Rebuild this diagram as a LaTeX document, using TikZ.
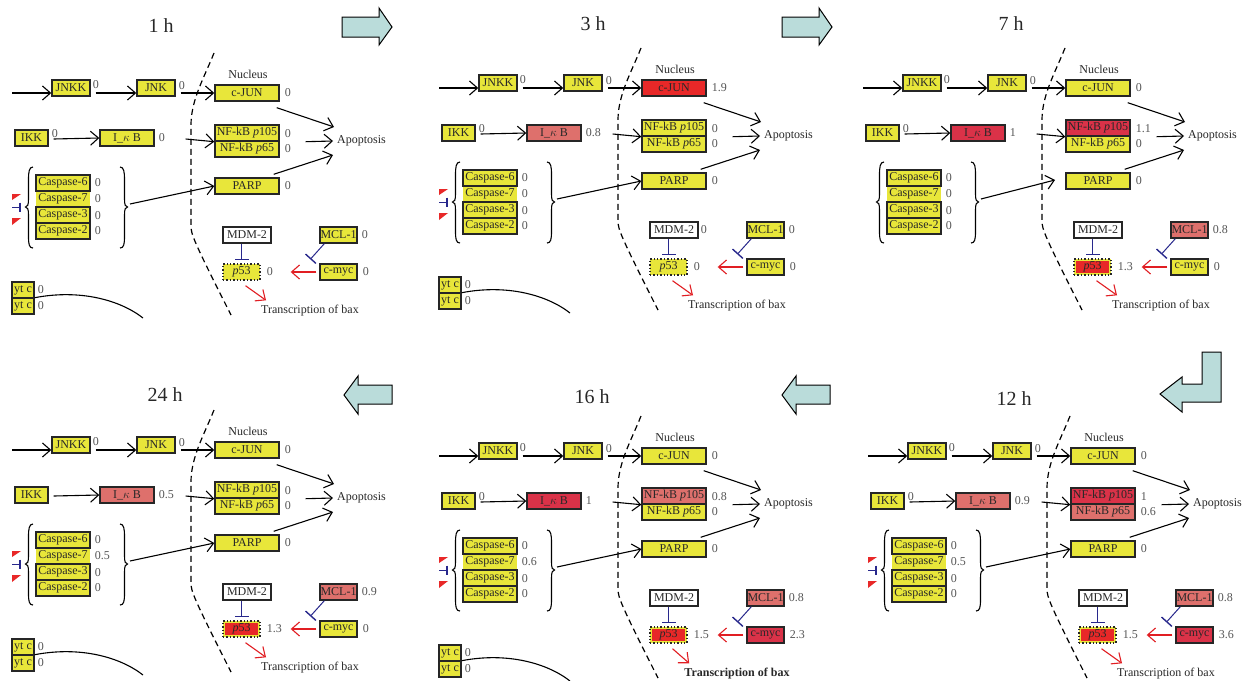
\documentclass[tikz,border=0pt]{standalone}
\usepackage{fontspec}
\setmainfont{Liberation Serif}
\usetikzlibrary{arrows.meta,calc}
\definecolor{yel}{RGB}{232,230,58}
\definecolor{pnk}{RGB}{222,112,108}
\definecolor{crm}{RGB}{218,50,72}
\definecolor{rdb}{RGB}{232,40,40}
\definecolor{tealbx}{RGB}{186,220,218}
\definecolor{inhb}{RGB}{40,40,140}
\definecolor{actr}{RGB}{225,30,35}
\definecolor{valc}{RGB}{85,85,85}
\definecolor{txtc}{RGB}{40,40,40}
\tikzset{
 box/.style={draw=black!85, line width=1.4pt, fill=yel, minimum height=16pt, inner sep=0pt, text=txtc, font=\fontsize{12}{13}\selectfont},
 val/.style={anchor=west, inner sep=0pt, text=valc, font=\fontsize{12}{13}\selectfont},
 lbl/.style={inner sep=0pt, text=txtc, font=\fontsize{12}{13}\selectfont},
 act/.style={line width=1.1pt, -{Straight Barb[length=8pt,width=14pt,line width=1.1pt]}},
 ract/.style={act, draw=actr},
 inh/.style={draw=inhb, line width=1pt, -{Bar[width=14pt,line width=1.4pt]}},
 memb/.style={line width=1.2pt, dash pattern=on 6pt off 4pt},
 bigarrow/.style={draw=black, line width=1pt, fill=tealbx, line join=miter},
 ttl/.style={font=\fontsize{20}{22}\selectfont, text=txtc},
 crv/.style={line width=1.1pt},
}
\newif\ifQtri
\newif\ifQytc
\newif\ifQshort
\newcommand\Qdefaults{%
 \def\QcjunC{yel}\def\QcjunV{0}\def\QikkV{0}\def\QikbC{yel}\def\QikbV{0}%
 \def\QpaC{yel}\def\QpaV{0}\def\QpbC{yel}\def\QpbV{0}\def\QcsV{0}%
 \def\QmdmV{}\def\QmclC{yel}\def\QmclV{0}\def\QmycC{yel}\def\QmycV{0}%
 \def\QpfC{yel}\def\QpfV{0}\def\QtobF{}\Qtritrue\Qytctrue\Qshortfalse}
\newcommand\drawpanel[3]{%
\begin{scope}[shift={(#2,#3)}]
\draw[memb] (214,53) .. controls (204,78) and (191,100) .. (191,125) -- (191,226) .. controls (191,234) and (193,240) .. (231,315);
% JNK row
\node[box,minimum width=38pt] (#1jnkk) at (71,88) {JNKK};
\node[val] at ($(#1jnkk.east)+(2,-3)$) {0};
\node[box,minimum width=38pt] (#1jnk) at (156,88) {JNK};
\node[val] at ($(#1jnk.east)+(3,-2)$) {0};
\node[box,fill=\QcjunC,minimum width=64pt] (#1cjun) at (247,93) {c-JUN};
\node[val] at ($(#1cjun.east)+(5,0)$) {\QcjunV};
\node[lbl] (#1nuc) at (248,74) {Nucleus};
\coordinate (#1st) at (12,93);
\draw[act] (#1st) -- ($(#1jnkk.west)+(0,5)$);
\draw[act] ($(#1jnkk.east)+(5,5)$) -- ($(#1jnk.west)+(0,5)$);
\draw[act] ($(#1jnk.east)+(5,5)$) -- (#1cjun.west);
% IKK row
\node[box,minimum width=33pt] (#1ikk) at (31.5,138) {IKK};
\node[val] at ($(#1ikk.east)+(3,-4)$) {\QikkV};
\node[box,fill=\QikbC,minimum width=54pt] (#1ikb) at (127,138) {I\_$\kappa$ B};
\node[val] at ($(#1ikb.east)+(4,0)$) {\QikbV};
\draw[act] ($(#1ikk.east)+(5,1)$) -- (#1ikb.west);
\node[box,fill=\QpaC,minimum width=64pt] (#1pa) at (247,133) {NF-kB \textit{p}105};
\node[box,fill=\QpbC,minimum width=64pt] (#1pb) at (247,149) {NF-kB \textit{p}65};
\node[val] at ($(#1pa.east)+(5,1)$) {\QpaV};
\node[val] at ($(#1pb.east)+(5,0)$) {\QpbV};
\coordinate (#1ia) at ($(#1ikb.east)+(31,1)$);
\draw[act] (#1ia) -- (#1pa.south west);
\node[box,minimum width=64pt] (#1parp) at (247,186) {PARP};
\node[val] at ($(#1parp.east)+(5,0)$) {0};
\node[lbl,anchor=west] (#1apo) at (337,141) {Apoptosis};
\draw[act] ($(#1cjun.south east)+(-3,6)$) -- ($(#1apo.west)+(-3,-14)$);
\draw[act] ($(#1pa.south east)+(26,0)$) -- ($(#1apo.west)+(-4,0)$);
\draw[act] ($(#1parp.north east)+(-6,-3)$) -- ($(#1apo.west)+(-4,14)$);
% caspases
\node[box,draw=none,minimum width=54pt] (#1c7) at (63,199) {Caspase-7};
\node[box,minimum width=54pt] (#1c6) at (63,183) {Caspase-6};
\node[box,minimum width=54pt] (#1c3) at (63,215) {Caspase-3};
\node[box,minimum width=54pt] (#1c2) at (63,231) {Caspase-2};
\node[val] at ($(#1c6.east)+(4,0)$) {0};
\node[val] at ($(#1c7.east)+(4,0)$) {\QcsV};
\node[val] at ($(#1c3.east)+(4,1)$) {0};
\node[val] at ($(#1c2.east)+(4,0)$) {0};
\draw[crv] (33,167) .. controls (29,167) and (28.5,172) .. (28.5,180) -- (28.5,199) .. controls (28.5,205) and (27.5,207) .. (25.5,207) .. controls (27.5,207) and (28.5,209) .. (28.5,215) -- (28.5,236) .. controls (28.5,244) and (29,248) .. (33,248);
\draw[crv] (120,167) .. controls (124,167) and (124.5,172) .. (124.5,180) -- (124.5,199) .. controls (124.5,205) and (125.5,207) .. (127.5,207) .. controls (125.5,207) and (124.5,209) .. (124.5,215) -- (124.5,236) .. controls (124.5,244) and (124,248) .. (120,248);
\coordinate (#1rb) at (130,204);
\ifQshort
 \coordinate (#1pe) at (204,185);
 \draw[act] (#1rb) -- (#1pe);
\else
 \draw[act] (#1rb) -- (#1parp.west);
\fi
\ifQtri
 \fill[rdb] (12,194) -- (21,194) -- (12,200) -- cycle;
 \fill[rdb] (12,218) -- (21,218) -- (12,225) -- cycle;
 \draw[draw=inhb,line width=1pt] (12,207) -- (20,207);
 \draw[draw=inhb,line width=1.3pt] (20,202.5) -- (20,211.5);
\fi
% p53 area
\node[box,fill=white,minimum width=48pt] (#1mdm) at (247,235) {MDM-2};
\node[val] at ($(#1mdm.east)+(2,0)$) {\QmdmV};
\node[box,dotted,fill=yel,minimum width=37pt,path picture={\fill[\QpfC] ([shift={(2pt,2pt)}]path picture bounding box.south west) rectangle ([shift={(-2pt,-2pt)}]path picture bounding box.north east);}] (#1p53) at (241.5,272) {\textit{p}53};
\node[val] at ($(#1p53.east)+(6,0)$) {\QpfV};
\draw[inh] ($(#1mdm.south)+(-5.5,0)$) -- ($(#1p53.north)+(0,-3)$);
\node[box,fill=\QmclC,minimum width=37pt] (#1mcl) at (338.5,235) {MCL-1};
\node[val] at ($(#1mcl.east)+(4,0)$) {\QmclV};
\node[box,fill=\QmycC,minimum width=37pt] (#1myc) at (338.5,272) {c-myc};
\node[val] at ($(#1myc.east)+(5,0)$) {\QmycV};
\coordinate (#1ie) at ($(#1myc.north west)+(-9,-4)$);
\draw[inh] ($(#1mcl.south west)+(5,0)$) -- (#1ie);
\coordinate (#1re) at ($(#1p53.east)+(30,0)$);
\draw[ract] ($(#1myc.west)+(-3,0)$) -- (#1re);
\node[lbl,font=\fontsize{12}{13}\selectfont\QtobF] (#1tob) at (310,311) {Transcription of bax};
\draw[ract] ($(#1p53.south)+(4,5)$) -- ($(#1tob.north west)+(5,-5)$);
\ifQytc
 \node[box,minimum width=22pt] (#1y1) at (23,290) {yt c};
 \node[box,minimum width=22pt] (#1y2) at (23,306) {yt c};
 \node[val] at ($(#1y1.east)+(3,0)$) {0};
 \node[val] at ($(#1y2.east)+(3,0)$) {0};
 \draw[crv] ($(#1y1.south east)+(0,-1)$) .. controls (80,289) and (120,300) .. (143,318);
\fi
\end{scope}}
\begin{document}
\begin{tikzpicture}[x=1pt,y=-1pt]
\useasboundingbox (0,0) rectangle (1242,680);
\fill[white] (0,0) rectangle (1242,680);
% titles
\node[ttl] (t1) at (161,26) {1 h};
\node[ttl] (t3) at (593,24) {3 h};
\node[ttl] (t7) at (1011,24) {7 h};
\node[ttl] (t24) at (165,395) {24 h};
\node[ttl] (t16) at (592,397) {16 h};
\node[ttl] (t12) at (1014,399) {12 h};
% big arrows
\draw[bigarrow] (342,17) -- (379,17) -- (379,8) -- (392,27) -- (379,45) -- (379,37) -- (342,37) -- cycle;
\draw[bigarrow] (782,17) -- (819,17) -- (819,8) -- (832,27) -- (819,45) -- (819,37) -- (782,37) -- cycle;
\draw[bigarrow] (1202,352) -- (1221,352) -- (1221,402) -- (1182,402) -- (1182,412) -- (1160,394) -- (1182,377) -- (1182,384) -- (1202,384) -- cycle;
\draw[bigarrow] (830,385) -- (796,385) -- (796,376) -- (782,395) -- (796,414) -- (796,404) -- (830,404) -- cycle;
\draw[bigarrow] (392,385) -- (358,385) -- (358,376) -- (344,395) -- (358,414) -- (358,404) -- (392,404) -- cycle;
% 1 h
\Qdefaults
\drawpanel{a}{0}{0}
% 3 h
\Qdefaults
\def\QcjunC{rdb}\def\QcjunV{1.9}\def\QikbC{pnk}\def\QikbV{0.8}\def\QmdmV{0}
\drawpanel{b}{427}{-5}
% 7 h
\Qdefaults
\def\QikbC{crm}\def\QikbV{1}\def\QpaC{crm}\def\QpaV{1.1}\def\QmclC{pnk}\def\QmclV{0.8}
\def\QpfC{rdb}\def\QpfV{1.3}\Qtrifalse\Qytcfalse\Qshorttrue
\drawpanel{c}{851}{-5}
% 24 h
\Qdefaults
\def\QikkV{}\def\QikbC{pnk}\def\QikbV{0.5}\def\QcsV{0.5}\def\QmclC{pnk}\def\QmclV{0.9}
\def\QpfC{rdb}\def\QpfV{1.3}
\drawpanel{d}{0}{357}
% 16 h
\Qdefaults
\def\QikbC{crm}\def\QikbV{1}\def\QpaC{pnk}\def\QpaV{0.8}\def\QcsV{0.6}\def\QmclC{pnk}\def\QmclV{0.8}
\def\QmycC{crm}\def\QmycV{2.3}\def\QpfC{rdb}\def\QpfV{1.5}\def\QtobF{\bfseries}
\drawpanel{e}{427}{363}
% 12 h
\Qdefaults
\def\QikbC{pnk}\def\QikbV{0.9}\def\QpaC{crm}\def\QpaV{1}\def\QpbC{pnk}\def\QpbV{0.6}\def\QcsV{0.5}
\def\QmclC{pnk}\def\QmclV{0.8}\def\QmycC{crm}\def\QmycV{3.6}\def\QpfC{rdb}\def\QpfV{1.5}\Qytcfalse
\drawpanel{f}{856}{363}
\end{tikzpicture}
\end{document}
